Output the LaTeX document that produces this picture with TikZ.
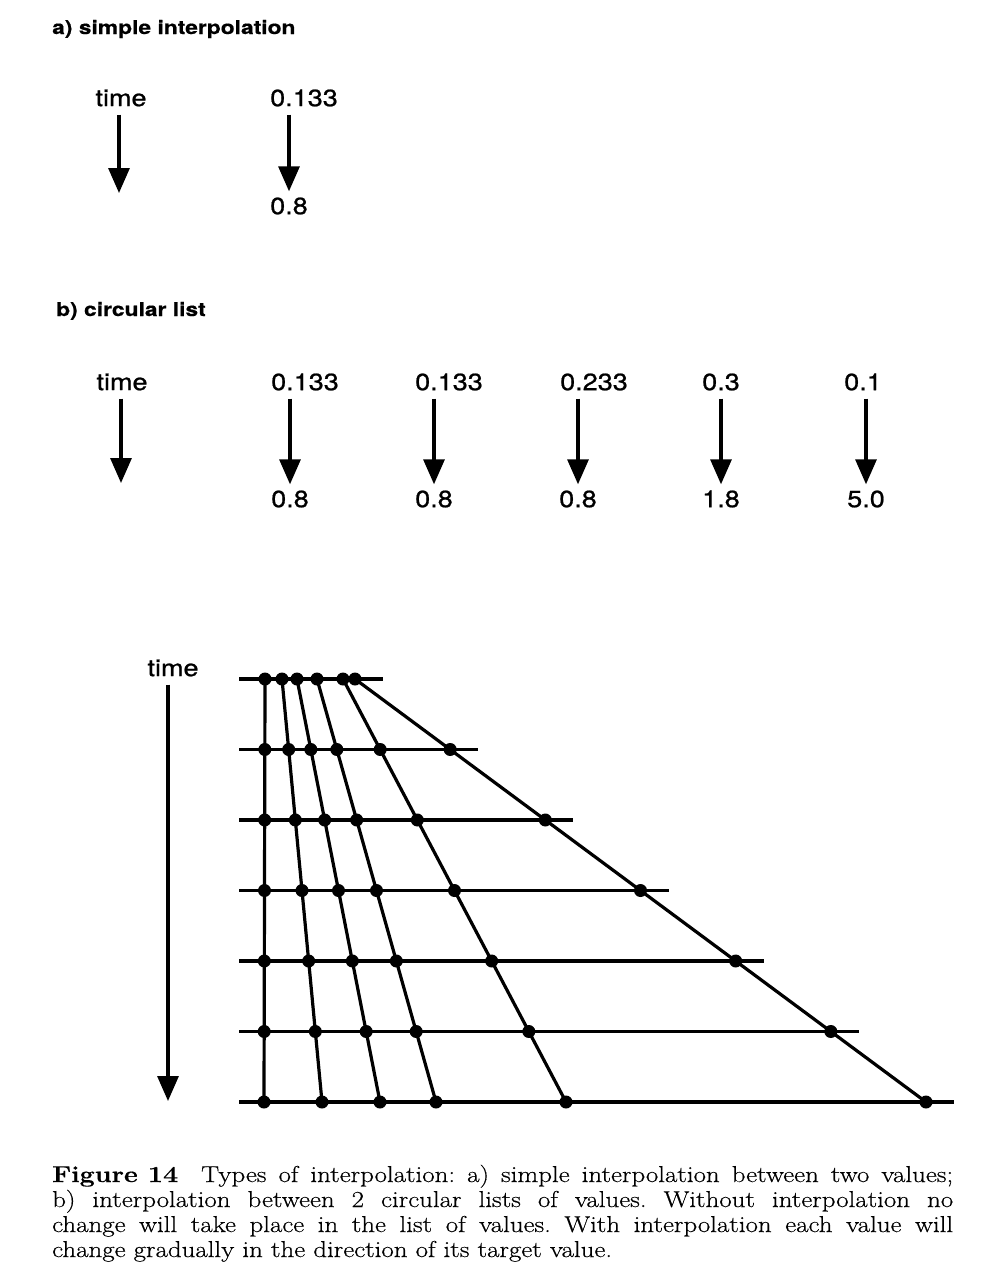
\documentclass[tikz,border=0pt]{standalone}
\usepackage{fontspec}
\setmainfont{Latin Modern Roman}[FakeStretch=1.17, FakeBold=0.5]
\newfontfamily\helv{TeX Gyre Heros}[FakeStretch=1.15, FakeBold=0.8]
\newfontfamily\helvt{TeX Gyre Heros}[FakeStretch=1.2, FakeBold=0.5]
\usepackage{tikz}
\usetikzlibrary{arrows.meta, positioning}

\begin{document}
\begin{tikzpicture}[
    x=1pt, y=-1pt,
    title/.style={anchor=base west, inner sep=0pt, font=\helvt\bfseries\fontsize{19}{23}\selectfont},
    lbl/.style={inner sep=6pt, font=\helv\fontsize{23.5}{27}\selectfont},
    arrow/.style={-{Triangle[length=25pt, width=21pt]}, line width=3.2pt, shorten <=2pt},
    rowline/.style={line width=3.2pt},
    track/.style={line width=3.2pt, line join=round},
    dot/.style={circle, fill, inner sep=0pt, minimum size=13pt},
    caption/.style={anchor=base west, inner sep=0pt, text width=901pt, align=justify,
        font=\frenchspacing\fontsize{23}{25}\selectfont}
]
    \useasboundingbox (0,0) rectangle (998,1274);

    % a) simple interpolation
    \node[title] (titlea) at (52,34) {a) simple interpolation};
    \node[lbl] (timea) at (121,98) {time};
    \coordinate (timea-end) at (119,193);
    \node[lbl] (srca) at (304,98) {0.133};
    \node[lbl] (tgta) at (289,206) {0.8};

    \draw[arrow] (timea.south -| timea-end) -- (timea-end);
    \draw[arrow] (tgta.north |- srca.south) -- (tgta.north);

    % b) circular list
    \node[title] (titleb) at (56,316) {b) circular list};
    \node[lbl] (timeb) at (122,382) {time};
    \coordinate (timeb-end) at (121,483);

    \node[lbl] (srcb1) at (305,382) {0.133};
    \node[lbl] (srcb2) at (449,382) {0.133};
    \node[lbl] (srcb3) at (594,382) {0.233};
    \node[lbl] (srcb4) at (721,382) {0.3};
    \node[lbl] (srcb5) at (863,382) {0.1};

    \node[lbl] (tgtb1) at (290,499) {0.8};
    \node[lbl] (tgtb2) at (434,499) {0.8};
    \node[lbl] (tgtb3) at (578,499) {0.8};
    \node[lbl] (tgtb4) at (721,499) {1.8};
    \node[lbl] (tgtb5) at (866,499) {5.0};

    \draw[arrow] (timeb.south -| timeb-end) -- (timeb-end);
    \foreach \i in {1,...,5}
        \draw[arrow] (tgtb\i.north |- srcb\i.south) -- (tgtb\i.north);

    % interpolation over time
    \node[lbl] (timec) at (173,668) {time};
    \coordinate (timec-end) at (168,1101);
    \draw[arrow] (timec.south -| timec-end) -- (timec-end);

    \foreach \t/\xa/\xb in {1/265/264, 2/282/322, 3/297/380, 4/317/436, 5/343/566, 6/355/926}
        \foreach \r in {0,...,6}{
            \pgfmathsetmacro\xx{\xa+(\xb-\xa)*\r/6}
            \coordinate (p-\r-\t) at (\xx,679+70.5*\r);
        };

    \foreach \r in {0,...,6}{
        \coordinate (s-\r) at (239,679+70.5*\r);
        \draw[rowline] (s-\r) -- ([xshift=28pt]p-\r-6);
    }
    \foreach \t in {1,...,6}
        \draw[track] (p-0-\t) -- (p-1-\t) -- (p-2-\t) -- (p-3-\t) -- (p-4-\t) -- (p-5-\t) -- (p-6-\t);
    \foreach \r in {0,...,6}
        \foreach \t in {1,...,6}
            \node[dot] (d-\r-\t) at (p-\r-\t) {};

    % caption
    \node[caption] (cap) at (52,1182) {\hbox{\textbf{Figure 14}}\quad Types of interpolation: a) simple interpolation between two values;\linebreak
        b) interpolation between 2 circular lists of values. Without interpolation no\linebreak
        change will take place in the list of values. With interpolation each value will\linebreak
        change gradually in the direction of its target value.};
\end{tikzpicture}
\end{document}
